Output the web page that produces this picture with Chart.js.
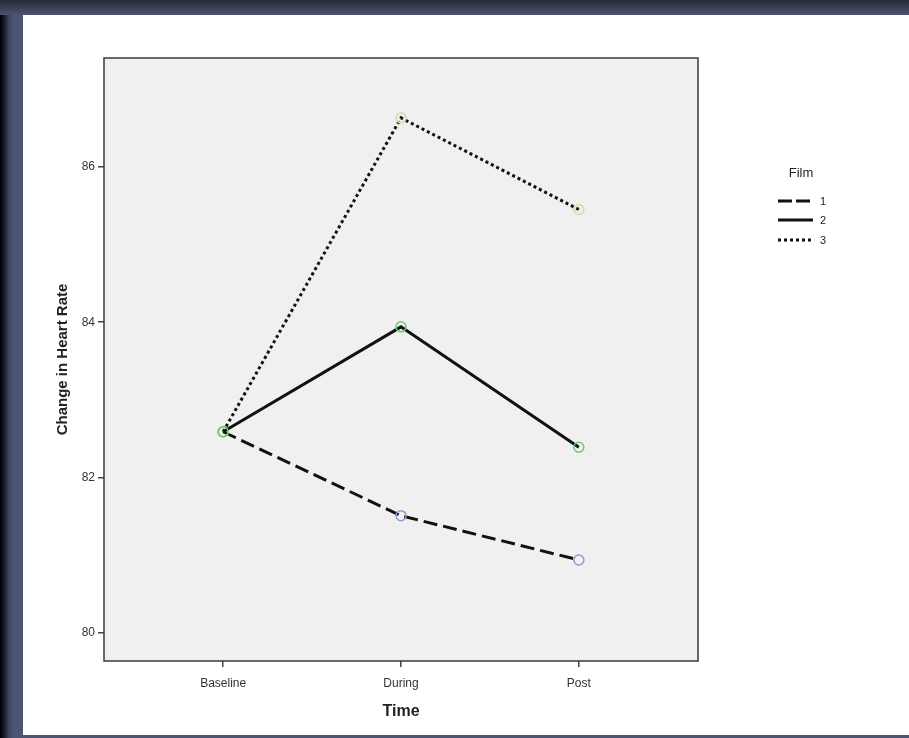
<!DOCTYPE html>
<html>
<head>
<meta charset="utf-8">
<script src="https://cdn.jsdelivr.net/npm/chart.js@4"></script>
<style>
    html, body { margin: 0; padding: 0; }
    body {
        width: 909px; height: 738px; overflow: hidden; position: relative;
        background: linear-gradient(to right, #000 0px, #141924 4px, #3e4760 9px, #4b5571 14px, #4b5571 100%);
    }
    #topband {
        position: absolute; left: 0; top: 0; width: 909px; height: 15px;
        background: linear-gradient(to bottom, #262b38, #4b5571);
    }
    #folha {
        position: absolute; left: 23px; top: 15px; width: 886px; height: 720px; background: #fff;
    }
    #grafico { position: absolute; left: 0; top: 0; }
</style>
</head>
<body>
<div id="topband"></div>
<div id="folha"></div>
<canvas id="grafico" width="909" height="738"></canvas>
<script>
const categorias = ['Baseline', 'During', 'Post'];
const filme1 = [82.59, 81.51, 80.94];
const filme2 = [82.59, 83.94, 82.39];
const filme3 = [82.59, 86.63, 85.45];
const ticksY = [80, 82, 84, 86];

function pontos(valores) {
    return valores.map((v, i) => ({ x: i, y: v }));
}

const fundoPlot = {
    id: 'fundoPlot',
    beforeDraw(chart) {
        const a = chart.chartArea;
        const ctx = chart.ctx;
        ctx.save();
        ctx.fillStyle = '#f0f0f0';
        ctx.fillRect(a.left, a.top, a.right - a.left, a.bottom - a.top);
        ctx.restore();
    },
    afterDraw(chart) {
        const a = chart.chartArea;
        const ctx = chart.ctx;
        ctx.save();
        ctx.strokeStyle = '#3a3a3a';
        ctx.lineWidth = 1.5;
        ctx.strokeRect(a.left, a.top, a.right - a.left, a.bottom - a.top);

        // legenda
        ctx.fillStyle = '#222';
        ctx.font = '13px "Liberation Sans", Arial, sans-serif';
        ctx.textAlign = 'center';
        ctx.textBaseline = 'middle';
        ctx.fillText('Film', 801, 173);
        const itens = [
            { nome: '1', dash: [14, 4], y: 201 },
            { nome: '2', dash: [], y: 220 },
            { nome: '3', dash: [3, 3], y: 240 }
        ];
        ctx.font = '11px "Liberation Sans", Arial, sans-serif';
        ctx.textAlign = 'left';
        itens.forEach(item => {
            ctx.strokeStyle = '#111';
            ctx.lineWidth = 3;
            ctx.setLineDash(item.dash);
            ctx.beginPath();
            ctx.moveTo(778, item.y);
            ctx.lineTo(813, item.y);
            ctx.stroke();
            ctx.setLineDash([]);
            ctx.fillText(item.nome, 820, item.y + 1);
        });
        ctx.restore();
    }
};

function gerarGrafico() {
    const ctx = document.getElementById('grafico').getContext('2d');
    new Chart(ctx, {
        type: 'line',
        data: {
            datasets: [{
                label: '1',
                data: pontos(filme1),
                borderColor: '#111',
                borderWidth: 3,
                borderDash: [14, 6],
                pointRadius: 5,
                pointBorderWidth: 1.5,
                pointBorderColor: '#8a9ad8',
                pointBackgroundColor: 'rgba(0,0,0,0)',
                order: 2
            }, {
                label: '2',
                data: pontos(filme2),
                borderColor: '#111',
                borderWidth: 3,
                pointRadius: 5,
                pointBorderWidth: 1.5,
                pointBorderColor: '#6cc86c',
                pointBackgroundColor: 'rgba(0,0,0,0)',
                order: 0
            }, {
                label: '3',
                data: pontos(filme3),
                borderColor: '#111',
                borderWidth: 3,
                borderDash: [3, 3],
                pointRadius: 5,
                pointBorderWidth: 1.5,
                pointBorderColor: '#dcd8a4',
                pointBackgroundColor: 'rgba(0,0,0,0)',
                order: 1
            }]
        },
        options: {
            responsive: false,
            animation: false,
            layout: { padding: { left: 44, right: 211, top: 58, bottom: 13 } },
            plugins: {
                legend: { display: false },
                tooltip: { enabled: false }
            },
            scales: {
                x: {
                    type: 'linear',
                    min: -0.67,
                    max: 2.67,
                    afterBuildTicks: s => { s.ticks = categorias.map((c, i) => ({ value: i })); },
                    afterFit: s => { s.height = 64; },
                    grid: { drawOnChartArea: false, drawTicks: true, tickLength: 6, color: '#444', lineWidth: 1.5 },
                    border: { display: false },
                    ticks: {
                        color: '#333',
                        font: { family: '"Liberation Sans", Arial, sans-serif', size: 12 },
                        padding: 9,
                        callback: v => categorias[v]
                    },
                    title: {
                        display: true,
                        text: 'Time',
                        color: '#222',
                        font: { family: '"Liberation Sans", Arial, sans-serif', size: 16, weight: 'bold' },
                        padding: { top: 12 }
                    }
                },
                y: {
                    min: 79.64,
                    max: 87.4,
                    afterBuildTicks: s => { s.ticks = ticksY.map(v => ({ value: v })); },
                    afterFit: s => { s.width = 60; },
                    grid: { drawOnChartArea: false, drawTicks: true, tickLength: 6, color: '#444', lineWidth: 1.5 },
                    border: { display: false },
                    ticks: {
                        color: '#333',
                        font: { family: '"Liberation Sans", Arial, sans-serif', size: 12 },
                        padding: 3
                    },
                    title: {
                        display: true,
                        text: 'Change in Heart Rate',
                        color: '#222',
                        font: { family: '"Liberation Sans", Arial, sans-serif', size: 15, weight: 'bold' },
                        padding: { top: 10, bottom: 0 }
                    }
                }
            }
        },
        plugins: [fundoPlot]
    });
}

gerarGrafico();
</script>
</body>
</html>
